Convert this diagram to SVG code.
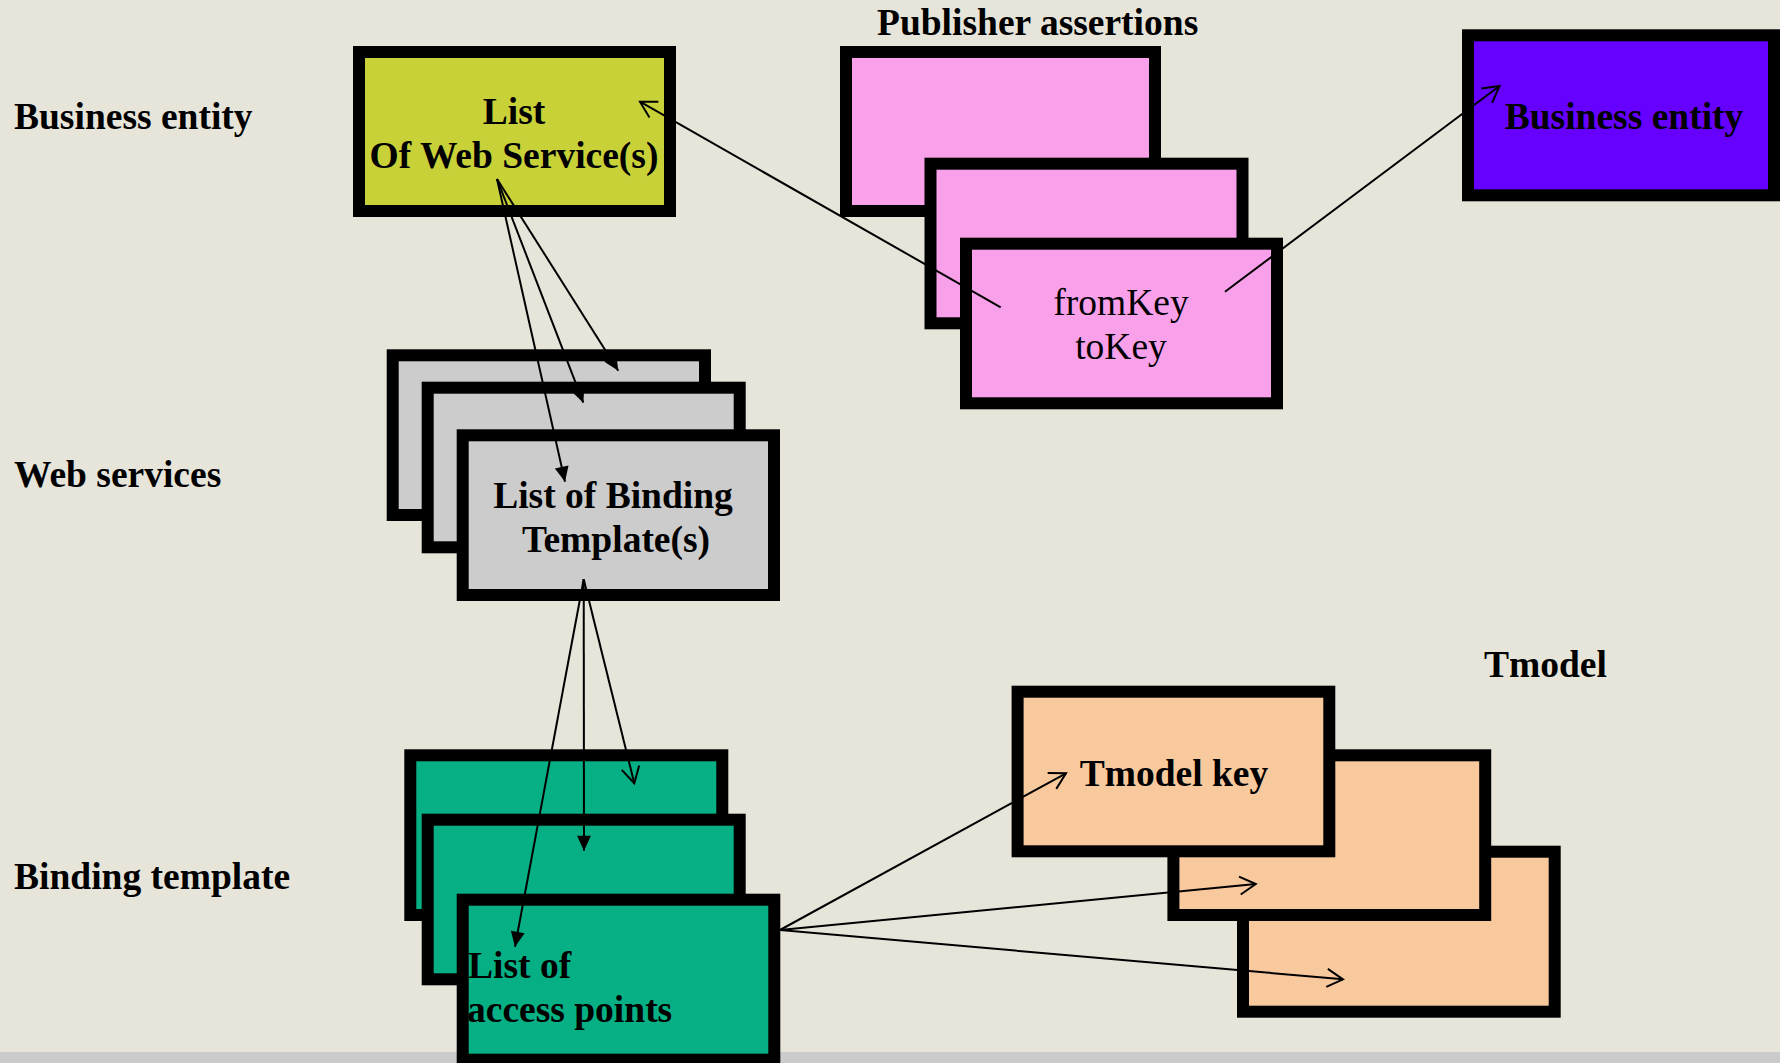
<svg xmlns="http://www.w3.org/2000/svg" width="1780" height="1063" viewBox="0 0 1780 1063">
<style>
.box{stroke:#000;stroke-width:12}
.yellow{fill:#C9D139}
.pink{fill:#F9A0EB}
.purple{fill:#6600FF}
.gray{fill:#CCCCCC}
.green{fill:#06B084}
.orange{fill:#F9C99E}
text{font-family:"Liberation Serif","Times New Roman",serif;font-size:37.5px;fill:#000}
.b{font-weight:bold}
.m{text-anchor:middle}
.conn line{stroke:#000;stroke-width:2}
</style>
<defs>
<marker id="filled" markerUnits="userSpaceOnUse" markerWidth="16" markerHeight="16" refX="15" refY="7" orient="auto" overflow="visible">
<path d="M0,0 L15,7 L0,14 z" fill="#000"/>
</marker>
<marker id="open" markerUnits="userSpaceOnUse" markerWidth="20" markerHeight="20" refX="16" refY="9" orient="auto" overflow="visible">
<path d="M0,0 L16,9 L0,18" fill="none" stroke="#000" stroke-width="2"/>
</marker>
</defs>
<rect x="0" y="0" width="1780" height="1063" fill="#E7E5DA"/>
<rect x="0" y="1052" width="1780" height="11" fill="#CBCBCB"/>

<g id="labels">
<text class="b" x="14" y="129">Business entity</text>
<text class="b" x="14" y="487">Web services</text>
<text class="b" x="14" y="889">Binding template</text>
<text class="b" x="877" y="35">Publisher assertions</text>
<text class="b" x="1484" y="677">Tmodel</text>
</g>

<g id="business-entity-list">
<rect class="box yellow" x="359" y="52" width="311" height="159"/>
<text class="b m" x="514" y="124">List</text>
<text class="b m" x="514" y="168">Of Web Service(s)</text>
</g>

<g id="publisher-assertions">
<rect class="box pink" x="846" y="52" width="309" height="159"/>
<rect class="box pink" x="930.5" y="163.7" width="312" height="159.6"/>
<rect class="box pink" x="966" y="243.7" width="311" height="159.6"/>
<text class="m" x="1121" y="315">fromKey</text>
<text class="m" x="1121" y="359">toKey</text>
</g>

<g id="business-entity-target">
<rect class="box purple" x="1468" y="35.3" width="306" height="160"/>
<text class="b m" x="1624" y="129">Business entity</text>
</g>

<g id="web-services">
<rect class="box gray" x="392.7" y="355.3" width="312.3" height="159.7"/>
<rect class="box gray" x="427.7" y="387.7" width="312" height="159.6"/>
<rect class="box gray" x="462.7" y="435.3" width="311.3" height="159.7"/>
<text class="b m" x="613" y="508">List of Binding</text>
<text class="b m" x="616" y="552">Template(s)</text>
</g>

<g id="binding-templates">
<rect class="box green" x="410.3" y="755.3" width="312" height="159.7"/>
<rect class="box green" x="427.7" y="819.7" width="312" height="159.6"/>
<rect class="box green" x="462.7" y="899.7" width="311.6" height="160"/>
<text class="b" x="468" y="978">List of</text>
<text class="b" x="467" y="1022">access points</text>
</g>

<g id="tmodels">
<rect class="box orange" x="1243" y="851.7" width="311.7" height="160"/>
<rect class="box orange" x="1173.4" y="755.3" width="311.8" height="159.7"/>
<rect class="box orange" x="1017.6" y="691.7" width="311.7" height="159.6"/>
<text class="b m" x="1174" y="786">Tmodel key</text>
</g>

<g id="connectors" class="conn">
<line x1="497" y1="179" x2="618.3" y2="370.7" marker-end="url(#filled)"/>
<line x1="497" y1="179" x2="583.3" y2="402.7" marker-end="url(#filled)"/>
<line x1="497" y1="179" x2="565" y2="481.7" marker-end="url(#filled)"/>
<line x1="583.7" y1="579.3" x2="634.3" y2="783.3" marker-end="url(#open)"/>
<line x1="583.7" y1="579.3" x2="584" y2="850.7" marker-end="url(#filled)"/>
<line x1="583.7" y1="579.3" x2="515" y2="946.7" marker-end="url(#filled)"/>
<line x1="1000.7" y1="307.3" x2="640" y2="101.7" marker-end="url(#open)"/>
<line x1="1225" y1="291.7" x2="1499.5" y2="86" marker-end="url(#open)"/>
<line x1="780" y1="930" x2="1066" y2="773.3" marker-end="url(#open)"/>
<line x1="780" y1="930" x2="1255.8" y2="884" marker-end="url(#open)"/>
<line x1="780" y1="930" x2="1343" y2="979.3" marker-end="url(#open)"/>
</g>
</svg>
